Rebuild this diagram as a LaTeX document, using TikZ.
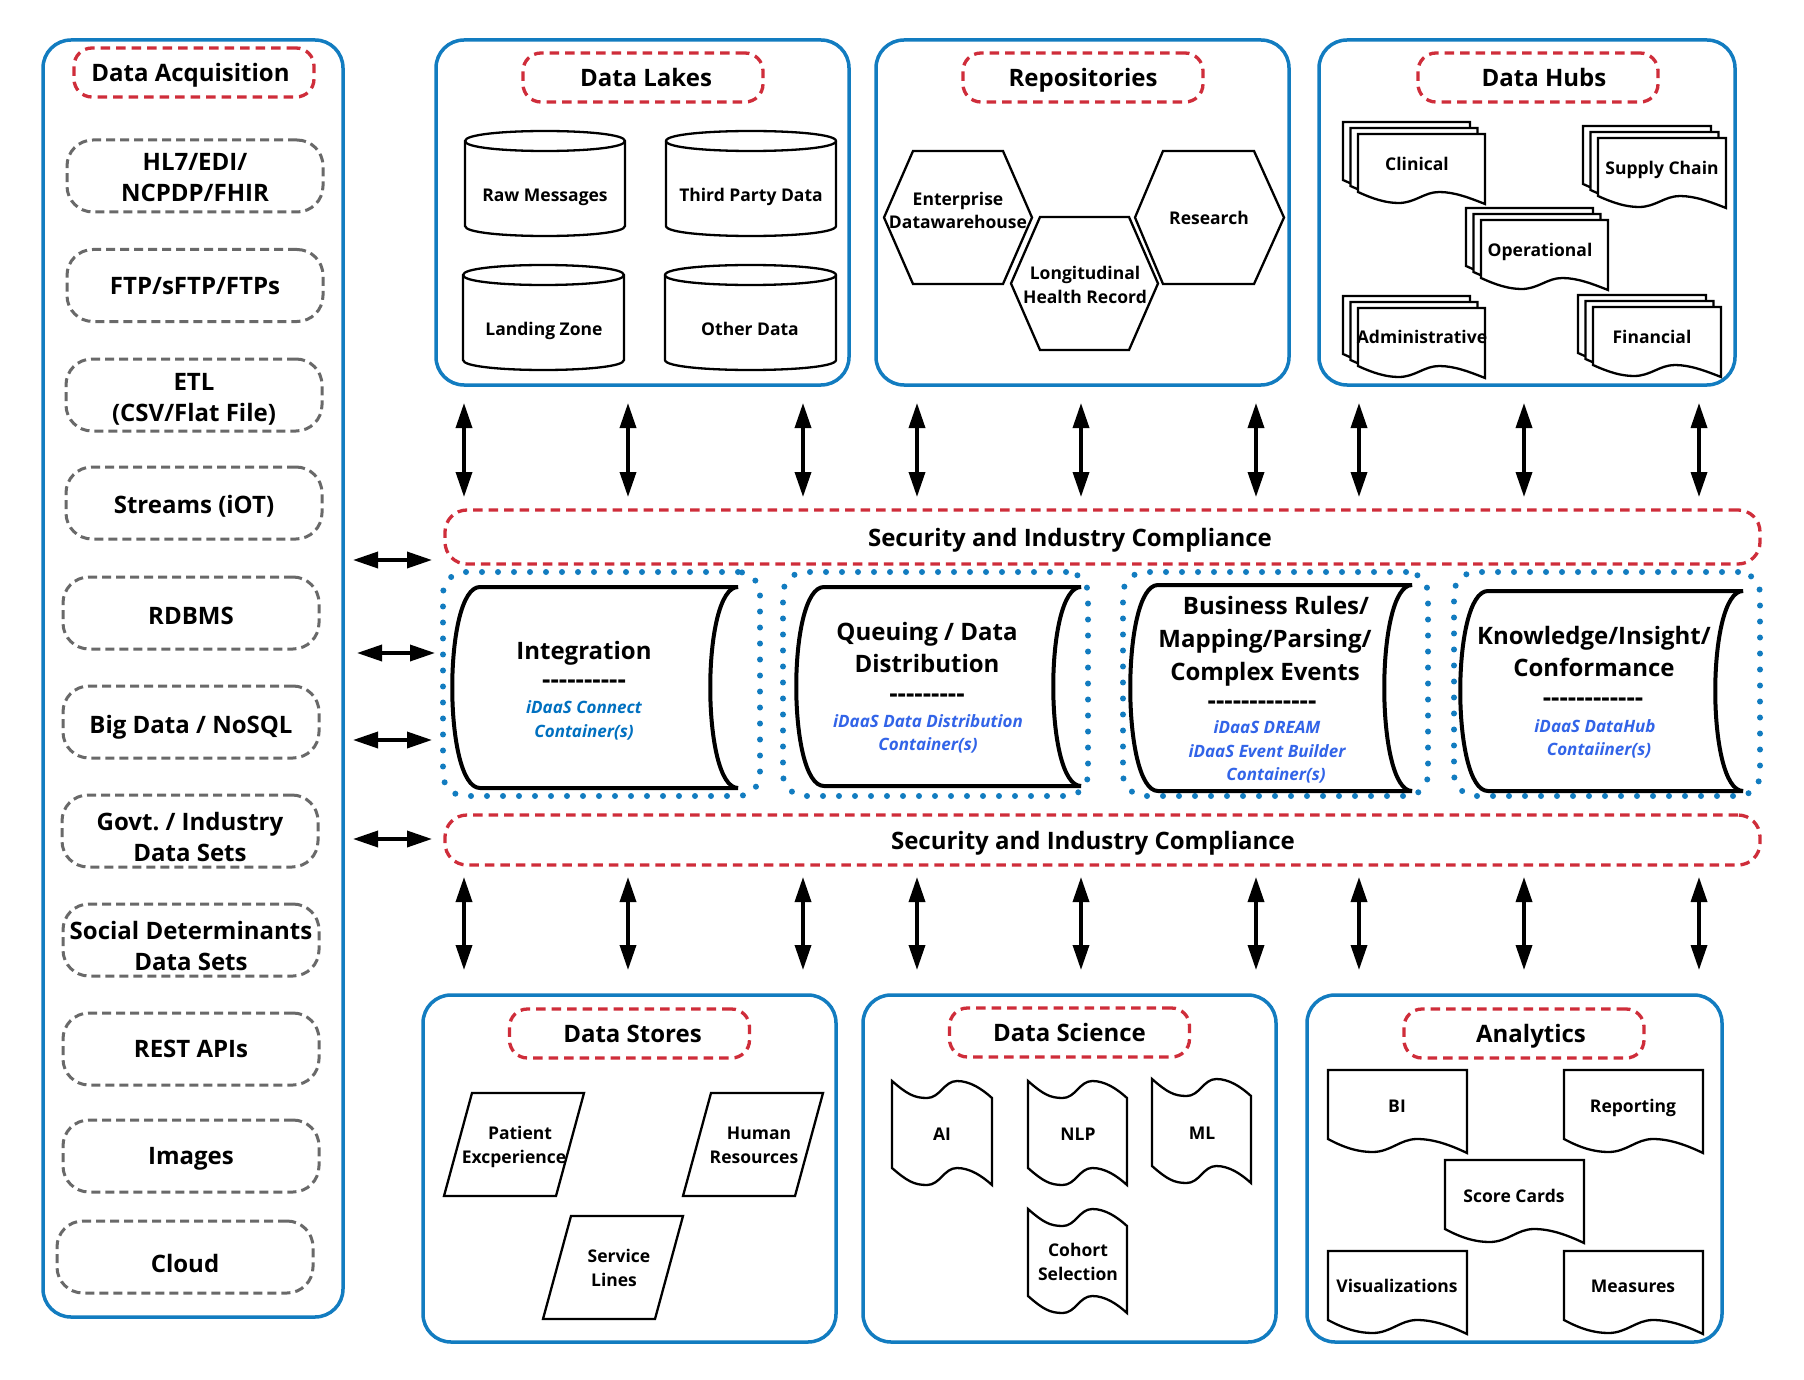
\documentclass[tikz,border=0pt]{standalone}
\usepackage{fontspec}
\setmainfont{Open Sans}
\usetikzlibrary{arrows.meta}
\definecolor{pblue}{RGB}{18,124,192}
\definecolor{cred}{RGB}{207,45,58}
\definecolor{cgray}{RGB}{105,105,105}
\definecolor{tblueA}{RGB}{0,112,192}
\definecolor{tblueB}{RGB}{50,100,232}
\frenchspacing
\newcommand\hy{-\kern0pt}
\newcommand\cylshp[4]{% x0 y0 w y1
 \draw[shp] ({#1},{#2+10}) -- ({#1},{#4-10}) .. controls ({#1},{#4+10/3}) and ({#1+#3},{#4+10/3}) .. ({#1+#3},{#4-10}) -- ({#1+#3},{#2+10}) .. controls ({#1+#3},{#2-10/3}) and ({#1},{#2-10/3}) .. ({#1},{#2+10}) -- cycle;
 \draw[shp,fill=none] ({#1},{#2+10}) .. controls ({#1},{#2+70/3}) and ({#1+#3},{#2+70/3}) .. ({#1+#3},{#2+10});}
\newcommand\docshp[5]{% x0 y0 w h a
 \draw[shp] ({#1},{#2}) -- ({#1+#3},{#2}) -- ({#1+#3},{#2+#4+#5}) .. controls ({#1+0.88*#3},{#2+#4+6}) and ({#1+0.76*#3},{#2+#4}) .. ({#1+0.64*#3},{#2+#4}) .. controls ({#1+0.52*#3},{#2+#4}) and ({#1+0.45*#3},{#2+#4+#5-1}) .. ({#1+0.32*#3},{#2+#4+#5-1}) .. controls ({#1+0.22*#3},{#2+#4+#5-1}) and ({#1+0.12*#3},{#2+#4+#5-5}) .. ({#1},{#2+#4}) -- cycle;}
\newcommand\mdocshp[4]{%
 \docshp{#1-15}{#2-12}{#3}{#4}{12}
 \docshp{#1-7.5}{#2-6}{#3}{#4}{12}
 \docshp{#1}{#2}{#3}{#4}{12}}
\newcommand\tapeshp[4]{% x0 y0 w H
 \draw[shp] ({#1},{#2}) .. controls ({#1+0.15*#3},{#2+13}) and ({#1+0.22*#3},{#2+17}) .. ({#1+0.35*#3},{#2+17}) .. controls ({#1+0.48*#3},{#2+17}) and ({#1+0.52*#3},{#2}) .. ({#1+0.65*#3},{#2}) .. controls ({#1+0.78*#3},{#2}) and ({#1+0.9*#3},{#2+8}) .. ({#1+#3},{#2+17}) -- ({#1+#3},{#2+#4+17}) .. controls ({#1+0.9*#3},{#2+#4+8}) and ({#1+0.78*#3},{#2+#4}) .. ({#1+0.65*#3},{#2+#4}) .. controls ({#1+0.52*#3},{#2+#4}) and ({#1+0.48*#3},{#2+#4+17}) .. ({#1+0.35*#3},{#2+#4+17}) .. controls ({#1+0.22*#3},{#2+#4+17}) and ({#1+0.15*#3},{#2+#4+13}) .. ({#1},{#2+#4}) -- cycle;}
\newcommand\hexshp[6]{% xl xtl xtr xr yt yb
 \draw[shp] ({#1},{(#5+#6)/2}) -- ({#2},{#5}) -- ({#3},{#5}) -- ({#4},{(#5+#6)/2}) -- ({#3},{#6}) -- ({#2},{#6}) -- cycle;}
\newcommand\parshp[5]{% x0 y0 w h s
 \draw[shp] ({#1+#5},{#2}) -- ({#1+#5+#3},{#2}) -- ({#1+#3},{#2+#4}) -- ({#1},{#2+#4}) -- cycle;}
\newcommand\scrollshp[4]{% xl xr yt yb
 \draw[scrollln] ({#1},{#3}) -- ({#2},{#3}) .. controls ({#2-37},{#3}) and ({#2-37},{#4}) .. ({#2},{#4}) -- ({#1},{#4}) .. controls ({#1-37},{#4}) and ({#1-37},{#3}) .. ({#1},{#3}) -- cycle;}
\begin{document}
\begin{tikzpicture}[x=1pt,y=-1pt,
 panel/.style={draw=pblue, line width=3.5pt, rounded corners=28pt, fill=white, inner sep=0pt},
 redtag/.style={draw=cred, line width=3.3pt, dash pattern=on 9.5pt off 6pt, rounded corners=18pt, minimum width=240pt, minimum height=49pt, inner sep=0pt, font=\fontsize{24}{29}\selectfont\bfseries, text height=17.2pt, text depth=0pt},
 graybox/.style={draw=cgray, line width=3pt, dash pattern=on 9pt off 5pt, rounded corners=26pt, minimum width=256pt, minimum height=72pt, inner sep=0pt, align=center, font=\fontsize{24}{31}\selectfont\bfseries, text height=17.2pt, text depth=0pt},
 two/.style={text height=#1, text depth=0pt},
 secbar/.style={draw=cred, line width=3.3pt, dash pattern=on 9.5pt off 6pt, rounded corners=22pt, inner sep=0pt},
 dotbox/.style={draw=pblue, line width=6pt, dash pattern=on 0pt off 16pt, line cap=round, rounded corners=22pt, inner sep=0pt},
 shp/.style={draw=black, line width=2.3pt, fill=white},
 scrollln/.style={draw=black, line width=4pt, fill=white},
 dbl/.style={line width=3.5pt, {Triangle[length=25pt,width=16pt]}-{Triangle[length=25pt,width=16pt]}},
 st/.style={inner sep=0pt, align=center, font=\fontsize{17.5}{23.5}\selectfont\bfseries, text height=12.5pt, text depth=0pt},
 st2/.style={st, text height=36pt},
 mt/.style={inner sep=0pt, align=center, font=\fontsize{24}{32}\selectfont\bfseries, text height=17.2pt, text depth=0pt},
 md/.style={inner sep=0pt, font=\fontsize{26}{30}\selectfont\bfseries},
 bt/.style={inner sep=0pt, align=center, font=\fontsize{17}{23.5}\selectfont\bfseries\itshape, text depth=0pt}
]
\useasboundingbox (0,0) rectangle (1804,1380);
\fill[white] (0,0) rectangle (1804,1380);

% ---------- panels
\node[panel, minimum width=300pt, minimum height=1277pt] (pacq) at (193,678.5) {};
\node[panel, minimum width=413pt, minimum height=345pt] (plakes) at (642.5,212.5) {};
\node[panel, minimum width=413pt, minimum height=345pt] (prepo) at (1082.5,212.5) {};
\node[panel, minimum width=416pt, minimum height=345pt] (phubs) at (1527,212.5) {};
\node[panel, minimum width=413pt, minimum height=347pt] (pstores) at (629.5,1168.5) {};
\node[panel, minimum width=413pt, minimum height=347pt] (psci) at (1069.5,1168.5) {};
\node[panel, minimum width=415pt, minimum height=347pt] (pana) at (1514.5,1168.5) {};

% ---------- title tags
\node[redtag] (tacq) at (194,72.5) {\hspace*{-7pt}Data Acquisition};
\node[redtag] (tlakes) at (643,77.5) {\hspace*{6pt}Data Lakes};
\node[redtag] (trepo) at (1083,77.5) {Repositories};
\node[redtag] (thubs) at (1538,77.5) {\hspace*{12pt}Data Hubs};
\node[redtag] (tstores) at (629.5,1033.5) {\hspace*{6pt}Data Stores};
\node[redtag] (tsci) at (1069.5,1032.5) {Data Science};
\node[redtag] (tana) at (1524,1033.5) {\hspace*{14pt}Analytics};

% ---------- acquisition sources
\node[graybox, two=52pt] (s1) at (195,176) {HL7/EDI/\\NCPDP/FHIR};
\node[graybox] (s2) at (195,285.5) {FTP/sFTP/FTPs};
\node[graybox, two=52pt] (s3) at (194,395) {ETL\\(CSV/Flat File)};
\node[graybox, two=21.5pt] (s4) at (194,503) {Streams (iOT)};
\node[graybox, two=23pt] (s5) at (191,613) {RDBMS};
\node[graybox, two=22pt] (s6) at (191,722) {Big Data / NoSQL};
\node[graybox, two=60pt] (s7) at (190,831) {Govt. / Industry\\Data Sets};
\node[graybox, two=61pt] (s8) at (191,940) {Social Determinants\\Data Sets};
\node[graybox] (s9) at (191,1049) {REST APIs};
\node[graybox] (s10) at (191,1156) {Images};
\node[graybox, two=30pt] (s11) at (185,1257) {Cloud};

% ---------- data lakes
\cylshp{465}{131}{160}{236}
\cylshp{666}{131}{170}{236}
\cylshp{463}{265}{161}{370}
\cylshp{665}{265}{171}{370}
\node[st] (raw) at (545,195) {Raw Messages};
\node[st] (third) at (751,195) {Third Party Data};
\node[st] (landing) at (544,329) {Landing Zone};
\node[st] (other) at (750,329) {Other Data};

% ---------- repositories
\hexshp{884}{913}{1003}{1032}{151}{284}
\hexshp{1011}{1040}{1129}{1158}{217}{350}
\hexshp{1135}{1163}{1254}{1284}{151}{284}
\node[st2] (edw) at (958,211) {Enterprise\\Datawarehouse};
\node[st2] (lhr) at (1085,285) {Longitudinal\\Health Record};
\node[st] (research) at (1209,218) {Research};

% ---------- data hubs
\mdocshp{1358}{134}{127}{58}
\mdocshp{1598}{138}{128}{58}
\mdocshp{1481}{220}{127}{58}
\mdocshp{1358}{308}{127}{58}
\mdocshp{1593}{307}{128}{58}
\node[st] (clinical) at (1417,164) {Clinical};
\node[st] (supply) at (1662,168) {Supply Chain};
\node[st] (operational) at (1540,250) {Operational};
\node[st] (admin) at (1422,337) {Administrative};
\node[st] (financial) at (1652,337) {Financial};

% ---------- security bars
\node[secbar, minimum width=1315pt, minimum height=54pt] (sec1) at (1102.5,537) {};
\node[secbar, minimum width=1315pt, minimum height=50pt] (sec2) at (1102.5,840) {};
\node[mt] (sec1t) at (1070,538) {Security and Industry Compliance};
\node[mt] (sec2t) at (1093,841) {Security and Industry Compliance};

% ---------- containers
\node[dotbox, minimum width=317pt, minimum height=224pt] (c1) at (601.5,684) {};
\node[dotbox, minimum width=305pt, minimum height=224pt] (c2) at (935.5,684) {};
\node[dotbox, minimum width=305pt, minimum height=224pt] (c3) at (1275.5,684) {};
\node[dotbox, minimum width=306pt, minimum height=224pt] (c4) at (1607,684) {};
\scrollshp{480}{738}{587}{788}
\scrollshp{824}{1081}{587}{786}
\scrollshp{1158}{1412}{585}{791}
\scrollshp{1488}{1743}{591}{791}

\node[mt] (i1t) at (584,651) {Integration};
\node[md] (i1d) at (584,684) {\hy\hy\hy\hy\hy\hy\hy\hy\hy\hy};
\node[bt, text=tblueA, text height=36pt] (i1b) at (584,719) {iDaaS Connect\\Container(s)};

\node[mt, text height=49.2pt] (i2t) at (927,648) {Queuing / Data\\Distribution};
\node[md] (i2d) at (927,698) {\hy\hy\hy\hy\hy\hy\hy\hy\hy};
\node[bt, text=tblueB, text height=35.6pt] (i2b) at (928,733) {iDaaS Data Distribution\\Container(s)};

\node[mt, font=\fontsize{24}{33}\selectfont\bfseries, text height=83.2pt] (i3t) at (1265,639) {\hspace*{22pt}Business Rules/\\Mapping/Parsing/\\Complex Events};
\node[md] (i3d) at (1262,705) {\hy\hy\hy\hy\hy\hy\hy\hy\hy\hy\hy\hy\hy};
\node[bt, text=tblueB, text height=59.1pt] (i3b) at (1267,751) {iDaaS DREAM\\iDaaS Event Builder\\\hspace*{18pt}Container(s)};

\node[mt, text height=49.2pt] (i4t) at (1594,652) {Knowledge/Insight/\\Conformance};
\node[md] (i4d) at (1593,702) {\hy\hy\hy\hy\hy\hy\hy\hy\hy\hy\hy\hy};
\node[bt, text=tblueB, text height=35.6pt] (i4b) at (1595,738) {iDaaS DataHub\\\hspace*{8pt}Contaiiner(s)};

% ---------- data stores
\parshp{444}{1093}{112}{103}{28}
\parshp{683}{1093}{112}{103}{28}
\parshp{543}{1216}{112}{103}{28}
\node[st2] (patient) at (514,1145) {\hspace*{12pt}Patient\\Excperience};
\node[st2] (hr) at (754,1145) {\hspace*{10pt}Human\\Resources};
\node[st2] (service) at (614,1268) {\hspace*{10pt}Service\\Lines};

% ---------- data science
\tapeshp{892}{1081}{100}{87}
\tapeshp{1028}{1081}{99}{87}
\tapeshp{1152}{1079}{99}{87}
\tapeshp{1028}{1209}{99}{87}
\node[st] (ai) at (942,1134) {AI};
\node[st] (nlp) at (1078,1134) {NLP};
\node[st] (ml) at (1202,1133) {ML};
\node[st2] (cohort) at (1078,1262) {Cohort\\Selection};

% ---------- analytics
\docshp{1328}{1070}{139}{69}{14}
\docshp{1564}{1070}{139}{69}{14}
\docshp{1445}{1160}{139}{69}{14}
\docshp{1328}{1251}{139}{69}{14}
\docshp{1564}{1251}{139}{69}{14}
\node[st] (bi) at (1397,1106) {BI};
\node[st] (reporting) at (1633,1106) {Reporting};
\node[st] (score) at (1514,1196) {Score Cards};
\node[st] (visual) at (1397,1286) {Visualizations};
\node[st] (measures) at (1633,1286) {Measures};

% ---------- arrows
\foreach \xx [count=\k] in {464,628,803,917,1081,1256,1359,1524,1699} {
  \coordinate (ua\k) at (\xx,403);
  \coordinate (ub\k) at (\xx,497);
  \coordinate (la\k) at (\xx,877);
  \coordinate (lb\k) at (\xx,970);
  \draw[dbl] (ua\k) -- (ub\k);
  \draw[dbl] (la\k) -- (lb\k);
}
\foreach \yy/\xa/\xb [count=\k] in {560/353/432,653/357/435,740/353/432,839/353/432} {
  \coordinate (ha\k) at (\xa,\yy);
  \coordinate (hb\k) at (\xb,\yy);
  \draw[dbl] (ha\k) -- (hb\k);
}
\end{tikzpicture}
\end{document}
